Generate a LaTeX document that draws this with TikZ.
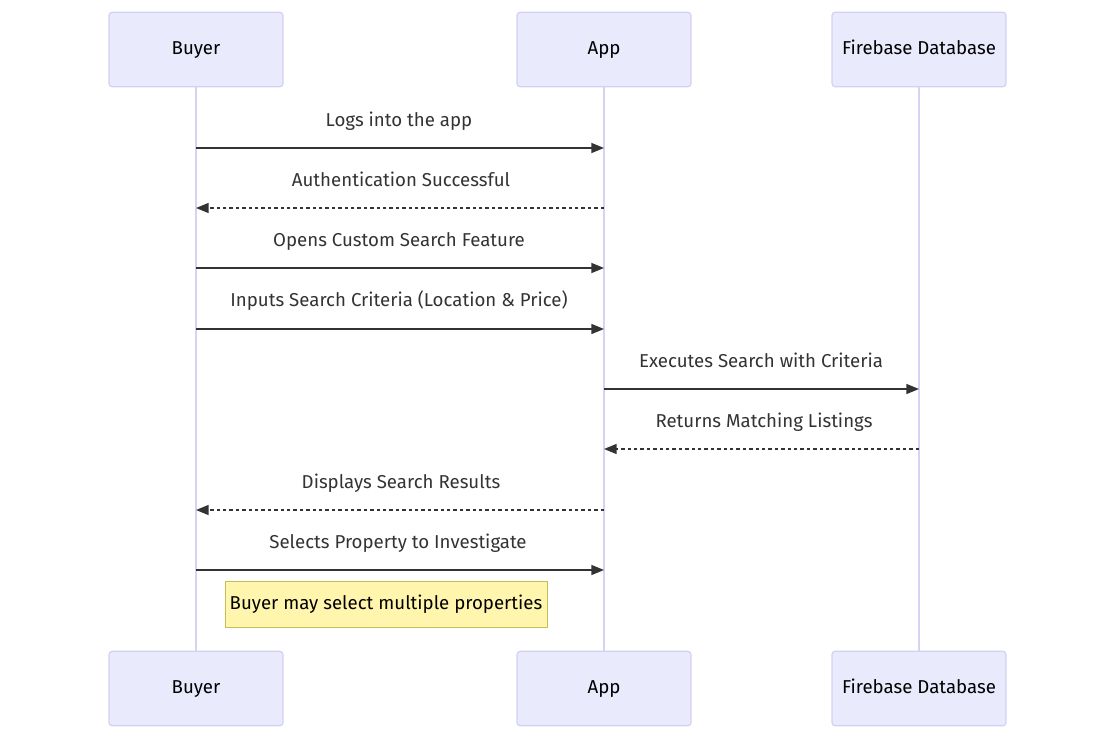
\documentclass[tikz,border=0pt]{standalone}
\usepackage{fontspec}
\setmainfont{Fira Sans}
\usepackage{tikz}
\usetikzlibrary{arrows.meta, positioning}

\definecolor{actorfill}{HTML}{EAEAFD}
\definecolor{actorline}{HTML}{D4D0F4}
\definecolor{lifeline}{HTML}{D9D2F5}
\definecolor{msgline}{HTML}{333333}
\definecolor{notefill}{HTML}{FFF5AD}
\definecolor{noteline}{HTML}{C4BE55}

\begin{document}
\begin{tikzpicture}[x=0.75pt,y=-0.75pt,
  actor/.style={draw=actorline,fill=actorfill,rounded corners=2.5pt,line width=0.9pt,
    minimum width=130.5pt,minimum height=56pt,inner sep=0pt,text height=10pt,text depth=3pt,
    font=\fontsize{14}{16}\selectfont},
  msg/.style={draw=msgline,line width=1.1pt,-{Triangle[length=9.5pt,width=7.5pt]}},
  reply/.style={msg,dash pattern=on 2.6pt off 2.2pt},
  msglabel/.style={font=\fontsize{14}{16}\selectfont,text=msgline,inner sep=0pt,
    text height=10pt,text depth=3pt}]
\useasboundingbox (0,0) rectangle (1116,739);

% actors
\node[actor] (buyertop) at (196,49.5) {Buyer};
\node[actor] (apptop) at (604,49.5) {App};
\node[actor] (dbtop) at (919,49.5) {Firebase Database};
\node[actor] (buyerbot) at (196,688.5) {Buyer};
\node[actor] (appbot) at (604,688.5) {App};
\node[actor] (dbbot) at (919,688.5) {Firebase Database};

% lifelines
\draw[lifeline,line width=1.5pt] (buyertop) -- (buyerbot);
\draw[lifeline,line width=1.5pt] (apptop) -- (appbot);
\draw[lifeline,line width=1.5pt] (dbtop) -- (dbbot);

% message ends
\coordinate (b1) at (196,148); \coordinate (a1) at (604,148);
\coordinate (b2) at (196,208); \coordinate (a2) at (604,208);
\coordinate (b3) at (196,268); \coordinate (a3) at (604,268);
\coordinate (b4) at (196,329); \coordinate (a4) at (604,329);
\coordinate (a5) at (604,389); \coordinate (d5) at (919,389);
\coordinate (a6) at (604,449); \coordinate (d6) at (919,449);
\coordinate (b7) at (196,510); \coordinate (a7) at (604,510);
\coordinate (b8) at (196,570); \coordinate (a8) at (604,570);

% messages
\draw[msg] (b1) -- (a1);
\node[msglabel] (m1) at (399,122) {Logs into the app};
\draw[reply] (a2) -- (b2);
\node[msglabel] (m2) at (401,182) {Authentication Successful};
\draw[msg] (b3) -- (a3);
\node[msglabel] (m3) at (399,242) {Opens Custom Search Feature};
\draw[msg] (b4) -- (a4);
\node[msglabel] (m4) at (399,302) {Inputs Search Criteria (Location \& Price)};
\draw[msg] (a5) -- (d5);
\node[msglabel] (m5) at (761,363) {Executes Search with Criteria};
\draw[reply] (d6) -- (a6);
\node[msglabel] (m6) at (764,423) {Returns Matching Listings};
\draw[reply] (a7) -- (b7);
\node[msglabel] (m7) at (401,484) {Displays Search Results};
\draw[msg] (b8) -- (a8);
\node[msglabel] (m8) at (398,544) {Selects Property to Investigate};

% note
\node[draw=noteline,fill=notefill,line width=0.75pt,minimum width=241.5pt,minimum height=34pt,
  inner sep=0pt,text height=10pt,text depth=3pt,font=\fontsize{14}{16}\selectfont] (note)
  at (386,604.5) {Buyer may select multiple properties};
\end{tikzpicture}
\end{document}
